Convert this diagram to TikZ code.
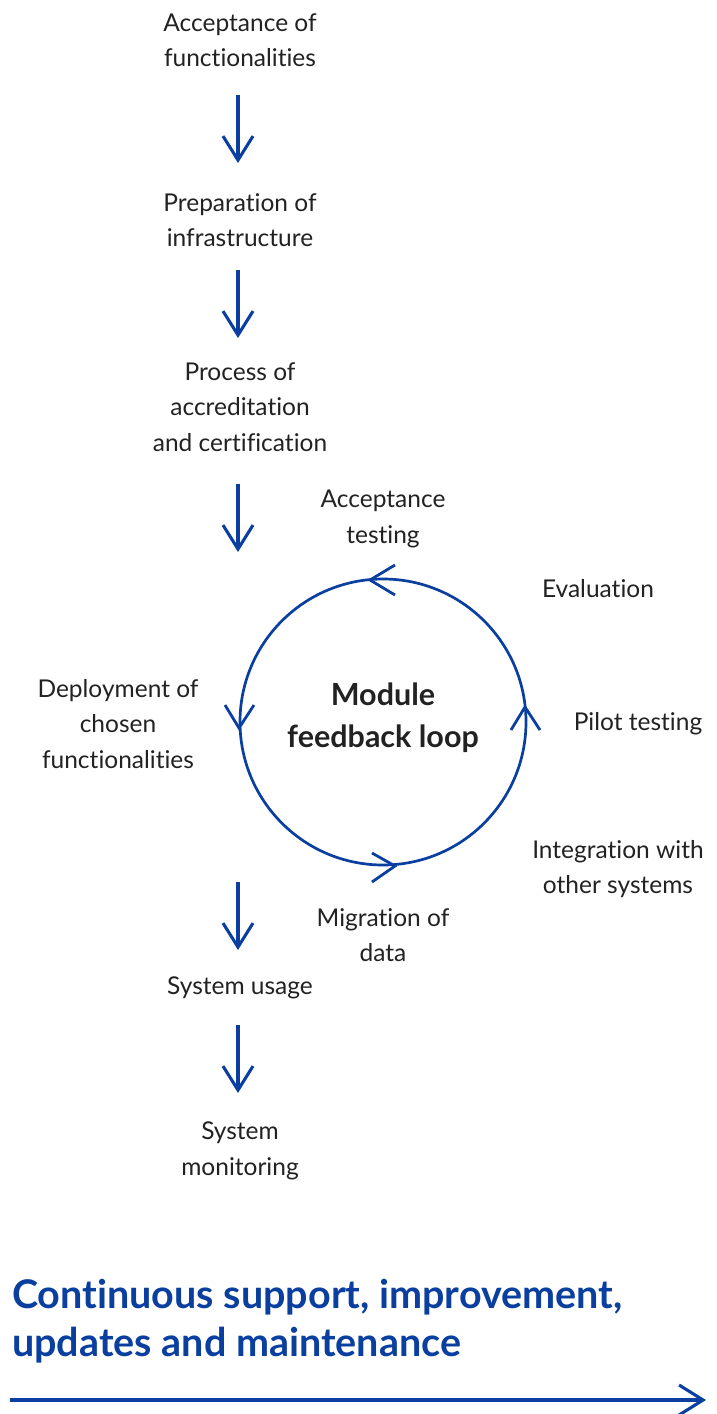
\documentclass[tikz,border=0pt]{standalone}
\usepackage{fontspec}
\setmainfont{Lato}[Ligatures=NoCommon]
\usetikzlibrary{arrows.meta}
\definecolor{bl}{HTML}{0A3FA0}
\definecolor{tx}{HTML}{222222}
\tikzset{
  lbl/.style={align=center, text=tx, font=\fontsize{24.5}{35.5}\selectfont, inner sep=0pt},
  varr/.style={draw=bl, line width=3.1pt, -{Straight Barb[length=24pt,width=30pt,line width=3.1pt]}},
  chev/.style={draw=bl, line width=2.8pt, line join=miter},
}
\begin{document}
\begin{tikzpicture}[x=1pt,y=-1pt]
\useasboundingbox (0,0) rectangle (717,1414);
% texts
\node[lbl] (t1) at (240,40) {Acceptance of\\functionalities};
\node[lbl] (t2) at (240,220) {Preparation of\\infrastructure};
\node[lbl] (t3) at (240,407) {Process of\\accreditation\\and certification};
\node[lbl] (t4) at (383,519) {Acceptance\\testing};
\node[lbl] (t5) at (598,589) {Evaluation};
\node[lbl] (t6) at (118,724) {Deployment of\\chosen\\functionalities};
\node[lbl] (t7) at (638,724) {Pilot testing};
\node[lbl] (t8) at (618,869) {Integration with\\other systems};
\node[lbl] (t9) at (383,935) {Migration of\\data};
\node[lbl] (t10) at (240,988) {System usage};
\node[lbl] (t11) at (240,1151) {System\\monitoring};
\node[align=center, text=tx, font=\fontsize{30.5}{42}\selectfont\bfseries, inner sep=0pt] (mod) at (383,718) {Module\\feedback loop};
\node[anchor=west, align=left, text=bl, font=\fontsize{39.5}{48}\selectfont\bfseries, inner sep=0pt] (title) at (12,1321) {Continuous support, improvement,\\updates and maintenance};
% vertical arrows
\coordinate (a1s) at (238,95);  \coordinate (a1e) at (238,163);
\coordinate (a2s) at (238,270); \coordinate (a2e) at (238,338);
\coordinate (a3s) at (238,484); \coordinate (a3e) at (238,552);
\coordinate (a4s) at (238,882); \coordinate (a4e) at (238,950);
\coordinate (a5s) at (238,1025); \coordinate (a5e) at (238,1093);
\draw[varr] (a1s) -- (a1e);
\draw[varr] (a2s) -- (a2e);
\draw[varr] (a3s) -- (a3e);
\draw[varr] (a4s) -- (a4e);
\draw[varr] (a5s) -- (a5e);
% loop
\coordinate (c) at (383,722);
\draw[draw=bl, line width=2.7pt] (c) circle[radius=143];
\draw[chev] (395,565) -- (370,580) -- (395,595);
\draw[chev] (225,705) -- (239,728) -- (254,705);
\draw[chev] (511,730) -- (525,707) -- (540,730);
\draw[chev] (372,853) -- (395,866) -- (372,882);
% bottom arrow
\coordinate (b1) at (10,1400); \coordinate (b2) at (706,1400);
\draw[varr] (b1) -- (b2);
\end{tikzpicture}
\end{document}
